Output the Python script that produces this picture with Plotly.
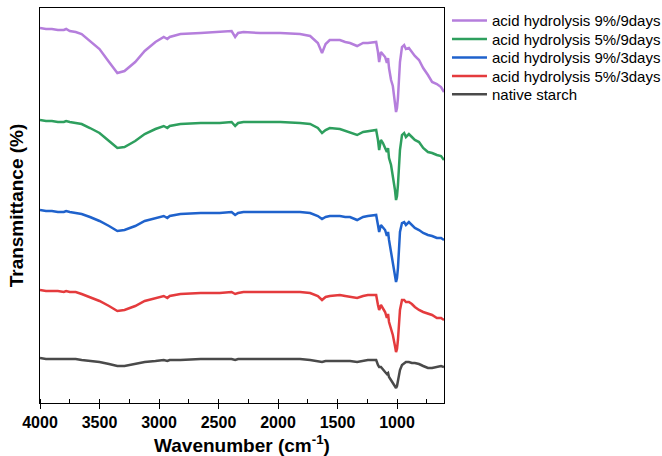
import plotly.graph_objects as go

wavenumber = [4000, 3950, 3900, 3850, 3800, 3780, 3750, 3700, 3650, 3580,
              3500, 3420, 3350, 3290, 3200, 3120, 3030, 2960, 2930, 2910,
              2820, 2650, 2490, 2390, 2360, 2335, 2290, 2150, 1980, 1815,
              1730, 1665, 1630, 1600, 1565, 1480, 1435, 1395, 1335, 1285,
              1245, 1200, 1175, 1160, 1150, 1135, 1118, 1100, 1085, 1075,
              1067, 1050, 1035, 1017, 1008, 1000, 992, 975, 958, 940,
              925, 900, 875, 850, 815, 780, 740, 705, 665, 630, 605]

acid_9_9 = [372, 371, 371, 370, 370, 371, 369, 368, 366, 359,
            351, 338, 327, 329, 338, 349, 358, 363, 361, 363,
            366, 367, 368, 369, 363, 367, 368, 367, 367, 366,
            364, 357, 347, 356, 360, 360, 358, 357, 354, 357,
            357, 358, 358, 348, 338, 348, 346, 343, 337, 342,
            332, 320, 314, 295, 288, 292, 302, 338, 353, 355,
            351, 352, 348, 344, 340, 332, 325, 318, 316, 313, 308]

acid_5_9 = [280, 279, 279, 278, 278, 279, 278, 277, 276, 272,
            267, 259, 252, 253, 259, 266, 271, 274, 272, 274,
            276, 277, 277, 278, 274, 277, 278, 278, 278, 277,
            276, 272, 267, 270, 272, 271, 269, 268, 265, 268,
            269, 270, 270, 260, 250, 260, 257, 252, 248, 252,
            242, 235, 225, 210, 200, 204, 215, 250, 265, 267,
            263, 266, 263, 260, 258, 252, 248, 247, 245, 244, 240]

acid_9_3 = [190, 189, 189, 188, 188, 189, 188, 187, 186, 183,
            179, 174, 169, 170, 174, 179, 182, 184, 182, 184,
            186, 187, 187, 188, 185, 187, 188, 188, 188, 188,
            187, 184, 181, 183, 184, 184, 183, 183, 180, 183,
            184, 185, 185, 175, 168, 175, 173, 170, 164, 168,
            160, 148, 138, 125, 118, 122, 132, 168, 177, 178,
            175, 178, 175, 172, 170, 167, 165, 164, 162, 162, 160]

acid_5_3 = [110, 109, 109, 109, 108, 109, 108, 108, 106, 103,
            99, 94, 89, 90, 94, 99, 102, 104, 102, 104,
            106, 107, 107, 108, 106, 107, 108, 108, 108, 108,
            107, 104, 100, 103, 104, 105, 104, 103, 102, 104,
            105, 105, 105, 95, 90, 95, 92, 88, 82, 86,
            78, 72, 65, 54, 48, 51, 60, 90, 100, 100,
            98, 98, 96, 93, 90, 88, 86, 85, 82, 82, 80]

native = [42, 41, 41, 41, 41, 41, 41, 41, 40, 39,
          38, 36, 34, 34, 36, 38, 39, 40, 39, 40,
          40, 41, 41, 41, 40, 41, 41, 41, 41, 41,
          40, 39, 38, 39, 39, 39, 39, 39, 38, 39,
          40, 40, 40, 35, 33, 33, 30, 28, 26, 27,
          23, 20, 17, 14, 12, 14, 20, 30, 35, 37,
          38, 38, 37, 37, 36, 34, 32, 32, 33, 34, 33]

series_names = ["acid hydrolysis 9%/9days", "acid hydrolysis 5%/9days",
                "acid hydrolysis 9%/3days", "acid hydrolysis 5%/3days",
                "native starch"]
series_values = [acid_9_9, acid_5_9, acid_9_3, acid_5_3, native]
series_colors = ["#B57EDC", "#2E9F5E", "#1F62CC", "#E43B3D", "#4A4A4A"]

tick_vals = [4000, 3500, 3000, 2500, 2000, 1500, 1000]

font_family = "Arial, Liberation Sans, sans-serif"
legend_ids = ["legend", "legend2", "legend3", "legend4", "legend5"]
legend_y = [0.968, 0.921, 0.874, 0.827, 0.781]

fig = go.Figure()
for name, vals, col, lid in zip(series_names, series_values, series_colors, legend_ids):
    fig.add_trace(go.Scatter(x=wavenumber, y=vals, mode="lines", name=name,
                             legend=lid, line=dict(color=col, width=2.5)))

legend_layout = {}
for lid, ly in zip(legend_ids, legend_y):
    legend_layout[lid] = dict(x=1.0074, y=ly, xanchor="left", yanchor="middle",
                              font=dict(size=15, family=font_family, color="black"),
                              bgcolor="rgba(0,0,0,0)", borderwidth=0,
                              itemwidth=35)

fig.update_layout(
    width=662, height=456,
    margin=dict(l=40, r=218, t=8, b=53, autoexpand=False),
    paper_bgcolor="white", plot_bgcolor="white",
    font=dict(family=font_family, color="black"),
    showlegend=True,
    xaxis=dict(range=[4000, 605], tickvals=tick_vals,
               ticktext=[str(v) for v in tick_vals],
               ticks="outside", ticklen=5, tickwidth=1.2, tickcolor="black",
               minor=dict(dtick=250, tick0=4000, ticks="inside", ticklen=4,
                          tickwidth=1.2, tickcolor="black", showgrid=False),
               showline=True, linecolor="black", linewidth=1.3, mirror=True,
               showgrid=False, zeroline=False,
               tickfont=dict(size=16, weight="bold", family=font_family),
               title=dict(text="Wavenumber (cm<sup>-1</sup>)",
                          font=dict(size=19, weight="bold", family=font_family),
                          standoff=10)),
    yaxis=dict(range=[-3, 392], showticklabels=False, ticks="",
               showline=True, linecolor="black", linewidth=1.3, mirror=True,
               showgrid=False, zeroline=False,
               title=dict(text="Transmittance (%)",
                          font=dict(size=19, weight="bold", family=font_family),
                          standoff=10)),
    **legend_layout,
)

fig.write_html("out.html", config={"displayModeBar": False},
               post_script="document.body.style.margin='0';")
